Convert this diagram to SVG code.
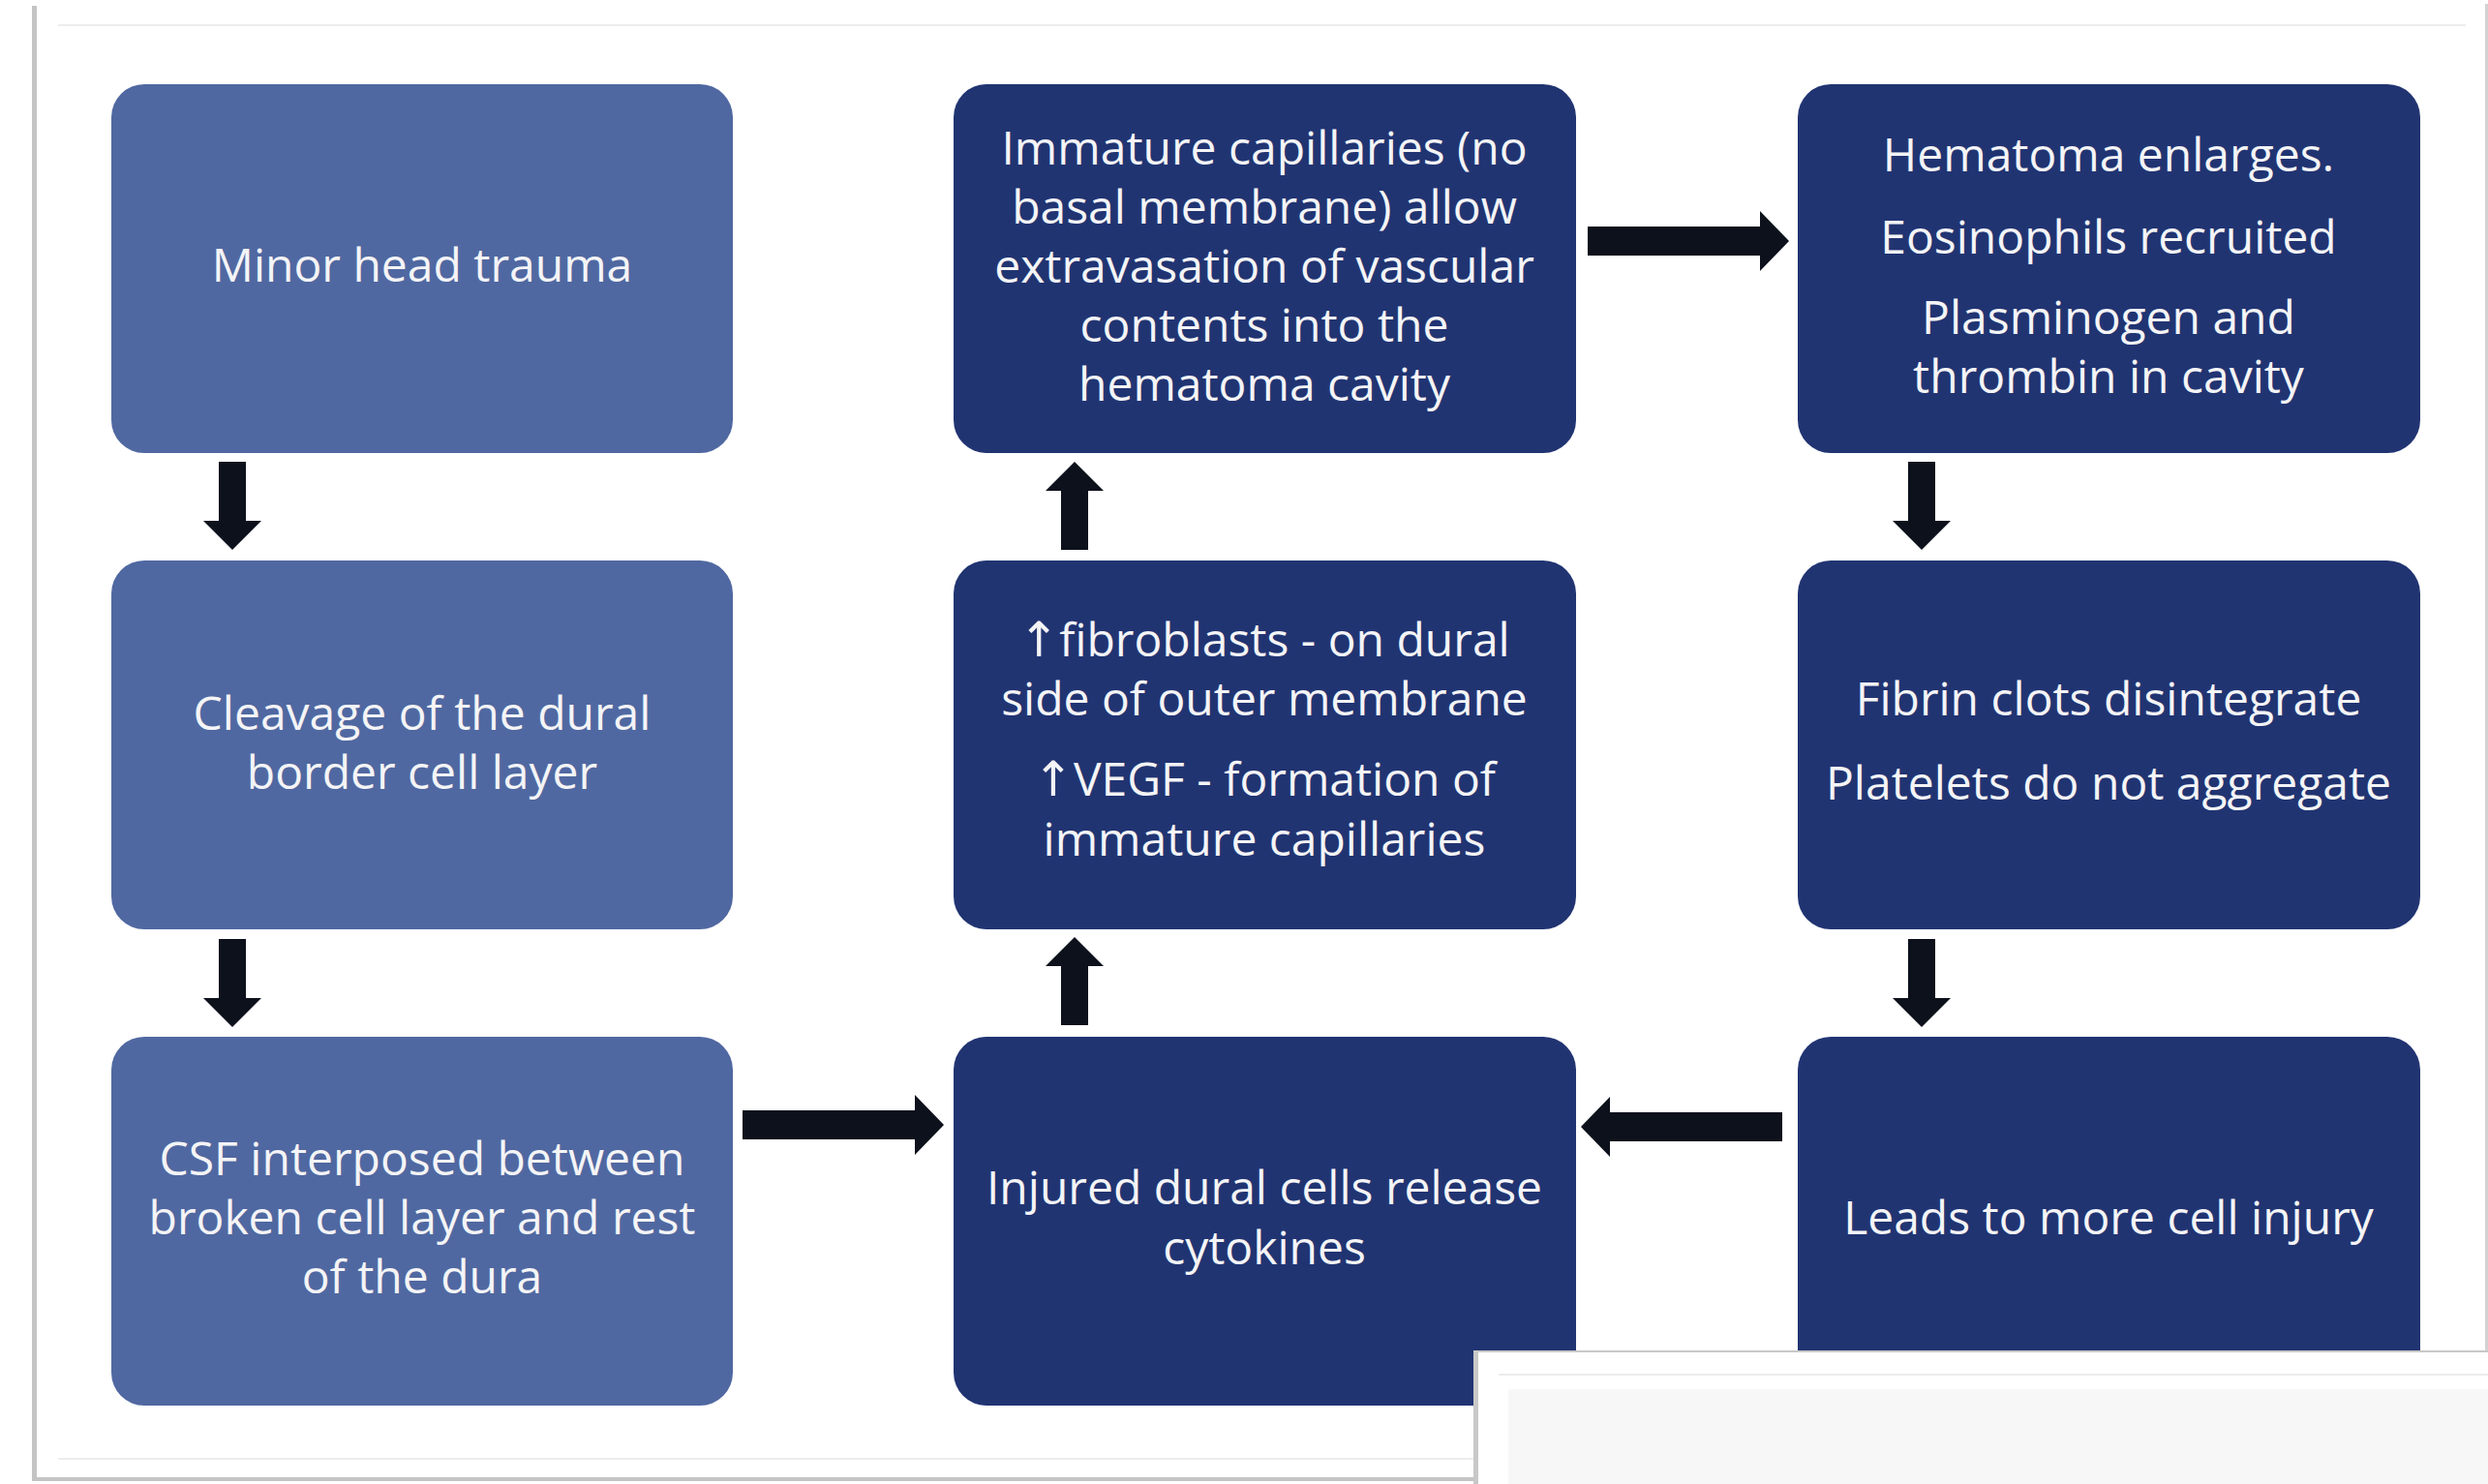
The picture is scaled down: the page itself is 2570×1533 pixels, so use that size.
<svg xmlns="http://www.w3.org/2000/svg" width="2570" height="1533" viewBox="0 0 2570 1533">
  <defs>
    <style>
      .light { fill: #5068A1; }
      .dark { fill: #213472; }
      .lbl { font-family: "Open Sans", "Liberation Sans", sans-serif; font-size: 48px; fill: #F4F4F6; text-anchor: middle; }
      .up { font-family: "DejaVu Sans", sans-serif; font-size: 50px; }
      .arr { fill: #0D111C; }
      .rule { stroke: #ECECEC; stroke-width: 2; fill: none; }
    </style>
    <path id="arrV" d="M0,-14 L61,-14 L61,-30 L91,0 L61,30 L61,14 L0,14 Z"/>
    <path id="arrH" d="M0,-15 L178,-15 L178,-31 L208,0 L178,31 L178,15 L0,15 Z"/>
  </defs>

  <rect x="0" y="0" width="2570" height="1533" fill="#FFFFFF"/>

  <!-- card background -->
  <g id="card">
    <rect x="33" y="6" width="2537" height="1524" fill="#C4C4C4"/>
    <rect x="38" y="4" width="2530" height="1522" fill="#FFFFFF"/>
    <rect x="2567" y="4" width="3" height="1526" fill="#D2D2D2"/>
    <line class="rule" x1="60" y1="26" x2="2547" y2="26"/>
    <line class="rule" x1="60" y1="1507" x2="2547" y2="1507"/>
  </g>

  <g id="n1">
    <rect class="light" x="115" y="87" width="642" height="381" rx="34"/>
    <text class="lbl" x="436" y="291">Minor head trauma</text>
  </g>
  <g id="n2">
    <rect class="light" x="115" y="579" width="642" height="381" rx="34"/>
    <text class="lbl" x="436" y="754">Cleavage of the dural</text>
    <text class="lbl" x="436" y="815">border cell layer</text>
  </g>
  <g id="n3">
    <rect class="light" x="115" y="1071" width="642" height="381" rx="34"/>
    <text class="lbl" x="436" y="1214">CSF interposed between</text>
    <text class="lbl" x="436" y="1275">broken cell layer and rest</text>
    <text class="lbl" x="436" y="1336">of the dura</text>
  </g>
  <g id="n4">
    <rect class="dark" x="985" y="87" width="643" height="381" rx="34"/>
    <text class="lbl" x="1306" y="170">Immature capillaries (no</text>
    <text class="lbl" x="1306" y="231">basal membrane) allow</text>
    <text class="lbl" x="1306" y="292">extravasation of vascular</text>
    <text class="lbl" x="1306" y="353">contents into the</text>
    <text class="lbl" x="1306" y="414">hematoma cavity</text>
  </g>
  <g id="n5">
    <rect class="dark" x="985" y="579" width="643" height="381" rx="34"/>
    <text class="lbl" x="1306" y="678"><tspan class="up">↑</tspan>fibroblasts - on dural</text>
    <text class="lbl" x="1306" y="739">side of outer membrane</text>
    <text class="lbl" x="1306" y="822"><tspan class="up">↑</tspan>VEGF - formation of</text>
    <text class="lbl" x="1306" y="884">immature capillaries</text>
  </g>
  <g id="n6">
    <rect class="dark" x="985" y="1071" width="643" height="381" rx="34"/>
    <text class="lbl" x="1306" y="1244">Injured dural cells release</text>
    <text class="lbl" x="1306" y="1306">cytokines</text>
  </g>
  <g id="n7">
    <rect class="dark" x="1857" y="87" width="643" height="381" rx="34"/>
    <text class="lbl" x="2178" y="177">Hematoma enlarges.</text>
    <text class="lbl" x="2178" y="262">Eosinophils recruited</text>
    <text class="lbl" x="2178" y="345">Plasminogen and</text>
    <text class="lbl" x="2178" y="406">thrombin in cavity</text>
  </g>
  <g id="n8">
    <rect class="dark" x="1857" y="579" width="643" height="381" rx="34"/>
    <text class="lbl" x="2178" y="739">Fibrin clots disintegrate</text>
    <text class="lbl" x="2178" y="826">Platelets do not aggregate</text>
  </g>
  <g id="n9">
    <rect class="dark" x="1857" y="1071" width="643" height="381" rx="34"/>
    <text class="lbl" x="2178" y="1275">Leads to more cell injury</text>
  </g>

  <g id="connectors" class="arr">
    <use href="#arrV" transform="translate(240,477) rotate(90)"/>
    <use href="#arrV" transform="translate(240,970) rotate(90)"/>
    <use href="#arrH" transform="translate(767,1162)"/>
    <use href="#arrV" transform="translate(1110,1059) rotate(-90)"/>
    <use href="#arrV" transform="translate(1110,568) rotate(-90)"/>
    <use href="#arrH" transform="translate(1640,249)"/>
    <use href="#arrV" transform="translate(1985,477) rotate(90)"/>
    <use href="#arrV" transform="translate(1985,970) rotate(90)"/>
    <use href="#arrH" transform="translate(1841,1164) rotate(180)"/>
  </g>

  <!-- overlapping panel at bottom right -->
  <g id="overlay">
    <rect x="1522" y="1395" width="1048" height="138" fill="#C8C8C8"/>
    <rect x="1527" y="1397" width="1043" height="136" fill="#FFFFFF"/>
    <line class="rule" x1="1548" y1="1420" x2="2570" y2="1420"/>
    <rect x="1558" y="1435" width="1012" height="98" fill="#F8F7F7"/>
  </g>
</svg>
